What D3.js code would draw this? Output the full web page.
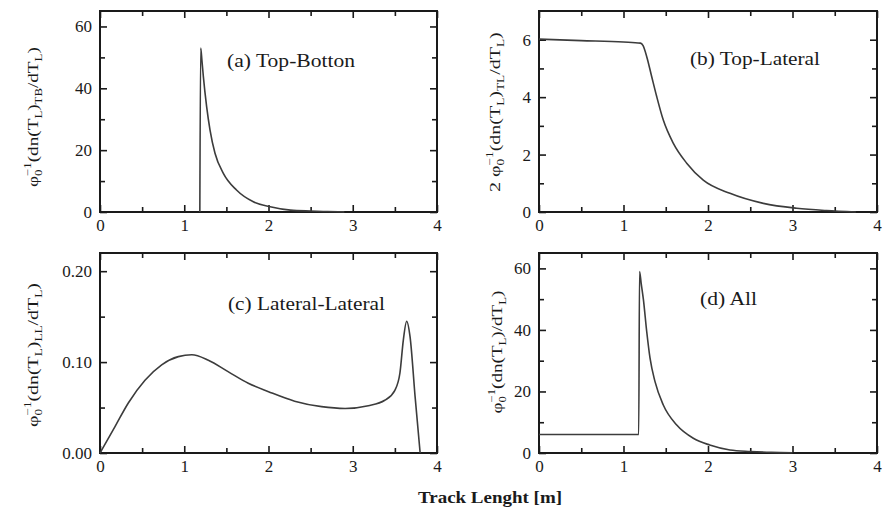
<!DOCTYPE html>
<html><head><meta charset="utf-8">
<script src="https://cdn.jsdelivr.net/npm/d3@7"></script>
<style>body{margin:0;background:#fff}svg{display:block}</style>
</head><body>
<svg id="c" width="891" height="508"></svg>
<script>
// ---- data ----
const xTicks = [0, 1, 2, 3, 4];
const yTicksA = [0, 20, 40, 60];
const yTicksB = [0, 2, 4, 6];
const yTicksC = [0, 0.10, 0.20];
const yTicksD = [0, 20, 40, 60];

const topBottom = [
  [1.185, 0], [1.195, 53], [1.21, 49], [1.226, 44], [1.266, 34], [1.306, 26.5],
  [1.365, 19], [1.464, 12.5], [1.62, 7.1], [1.82, 3.3], [2.02, 1.7], [2.26, 0.6],
  [2.5, 0.3], [2.7, 0.15], [2.9, 0.05]
];
const topLateral = [
  [0, 6.02], [0.5, 5.97], [1.0, 5.92], [1.2, 5.88], [1.23, 5.8], [1.275, 5.41],
  [1.334, 4.71], [1.393, 4.02], [1.471, 3.2], [1.59, 2.39], [1.748, 1.70],
  [1.944, 1.11], [2.26, 0.65], [2.655, 0.30], [3.05, 0.13], [3.4, 0.05], [3.75, 0]
];
const lateralLateral = [
  [0.0, 0], [0.178, 0.029], [0.336, 0.055], [0.534, 0.080], [0.732, 0.097],
  [0.93, 0.106], [1.09, 0.108], [1.286, 0.102], [1.52, 0.0895], [1.76, 0.0767],
  [2.0, 0.0675], [2.31, 0.057], [2.63, 0.051], [2.91, 0.049], [3.185, 0.052],
  [3.38, 0.058], [3.50, 0.069], [3.56, 0.088], [3.60, 0.124], [3.64, 0.145],
  [3.68, 0.128], [3.74, 0.062], [3.80, 0]
];
const allTracks = [
  [0, 6], [1.18, 6], [1.19, 59], [1.21, 55], [1.235, 50], [1.275, 39.4], [1.314, 30.8],
  [1.373, 23.2], [1.471, 15.6], [1.63, 9.1], [1.826, 4.8], [2.02, 2.6], [2.26, 1.0],
  [2.5, 0.5], [2.75, 0.2], [3.0, 0.08]
];

const panels = [
  {x0:100, x1:437, y0:11, y1:212, ymax:65, yt:yTicksA, ym:[10,30,50], fmt:d3.format("d"), data:topBottom,
   label:"(a) Top-Botton", lx:227, ly:67, lw:128,
   yl:{bx:38, cy:117, len:140, parts:[["φ","n"],["0","sub"],["−1","sup",-5],["(dn(T","n"],["L","sub"],[")","n"],["TB","sub"],["/dT","n"],["L","sub"],[")","n"]]}},
  {x0:539, x1:877, y0:11, y1:212, ymax:7, yt:yTicksB, ym:[1,3,5], fmt:d3.format("d"), data:topLateral,
   label:"(b) Top-Lateral", lx:690, ly:65, lw:130,
   yl:{bx:500, cy:112, len:160, parts:[["2 φ","n"],["0","sub"],["−1","sup",-5],["(dn(T","n"],["L","sub"],[")","n"],["TL","sub"],["/dT","n"],["L","sub"],[")","n"]]}},
  {x0:100, x1:437, y0:253, y1:453, ymax:0.22, yt:yTicksC, ym:[0.05,0.15], fmt:d3.format(".2f"), data:lateralLateral,
   label:"(c) Lateral-Lateral", lx:228, ly:310, lw:157,
   yl:{bx:38, cy:355, len:144, parts:[["φ","n"],["0","sub"],["−1","sup",-5],["(dn(T","n"],["L","sub"],[")","n"],["LL","sub"],["/dT","n"],["L","sub"],[")","n"]]}},
  {x0:539, x1:877, y0:253, y1:453, ymax:65, yt:yTicksD, ym:[10,30,50], fmt:d3.format("d"), data:allTracks,
   label:"(d) All", lx:700, ly:305, lw:57,
   yl:{bx:502, cy:352, len:123, parts:[["φ","n"],["0","sub"],["−1","sup",-5],["(dn(T","n"],["L","sub"],[")/dT","n"],["L","sub"],[")","n"]]}}
];

const svg = d3.select("#c");
const FONT = "'Liberation Serif','Times New Roman',serif";
const ink = "#1a1a1a";

panels.forEach(p => {
  const x = d3.scaleLinear().domain([0,4]).range([p.x0,p.x1]);
  const y = d3.scaleLinear().domain([0,p.ymax]).range([p.y1,p.y0]);
  const g = svg.append("g");
  const xm = [0.5,1.5,2.5,3.5];
  function ax(axisFn, scale, vals, size, tr, fmt, pad) {
    const a = axisFn(scale).tickValues(vals).tickSize(size).tickPadding(pad||0);
    a.tickFormat(fmt || (()=>""));
    const s = g.append("g").attr("transform", tr).call(a);
    s.select(".domain").remove();
    s.selectAll("line").attr("stroke", ink).attr("stroke-width", 1.6);
    s.selectAll("text").attr("font-family", FONT).attr("font-size", 17).attr("fill", ink);
    return s;
  }
  // bottom
  ax(d3.axisBottom, x, xTicks, -7, `translate(0,${p.y1})`, d3.format("d"), 7);
  ax(d3.axisBottom, x, xm, -5, `translate(0,${p.y1})`);
  // top
  ax(d3.axisTop, x, xTicks, -7, `translate(0,${p.y0})`);
  ax(d3.axisTop, x, xm, -5, `translate(0,${p.y0})`);
  // left
  ax(d3.axisLeft, y, p.yt, -7, `translate(${p.x0},0)`, p.fmt, 8);
  ax(d3.axisLeft, y, p.ym, -5, `translate(${p.x0},0)`);
  // right
  ax(d3.axisRight, y, p.yt, -7, `translate(${p.x1},0)`);
  ax(d3.axisRight, y, p.ym, -5, `translate(${p.x1},0)`);

  g.append("rect").attr("x",p.x0).attr("y",p.y0).attr("width",p.x1-p.x0).attr("height",p.y1-p.y0)
    .attr("fill","none").attr("stroke",ink).attr("stroke-width",2);

  const line = d3.line().x(d=>x(d[0])).y(d=>y(d[1])).curve(d3.curveMonotoneX);
  g.append("path").datum(p.data).attr("d", line).attr("fill","none")
    .attr("stroke","#3c3c3c").attr("stroke-width",1.6).attr("stroke-linejoin","round");

  g.append("text").attr("x",p.lx).attr("y",p.ly).attr("font-family",FONT).attr("font-size",18)
    .attr("fill",ink).attr("textLength",p.lw).attr("lengthAdjust","spacingAndGlyphs").text(p.label);

  // y label
  const yl = p.yl;
  const lg = svg.append("g");
  const t = lg.append("text").attr("font-family",FONT).attr("font-size",15).attr("fill",ink);
  let cur = 0;
  yl.parts.forEach(([s,k,dx]) => {
    const target = k==="sub" ? 4 : k==="sup" ? -7 : 0;
    const ts = t.append("tspan").attr("dy", target-cur).text(s);
    if (dx) ts.attr("dx", dx);
    if (k!=="n") ts.attr("font-size", 10);
    cur = target;
  });
  const bb = t.node().getBBox();
  const sc = yl.len / bb.width;
  lg.attr("transform", `translate(${yl.bx},${yl.cy}) rotate(-90) scale(${sc},1) translate(${-(bb.x+bb.width/2)},0)`);
});

svg.append("text").attr("x",418).attr("y",503).attr("font-family",FONT).attr("font-size",17)
  .attr("font-weight","bold").attr("fill",ink).attr("textLength",144).attr("lengthAdjust","spacingAndGlyphs")
  .text("Track Lenght [m]");
</script>
</body></html>
